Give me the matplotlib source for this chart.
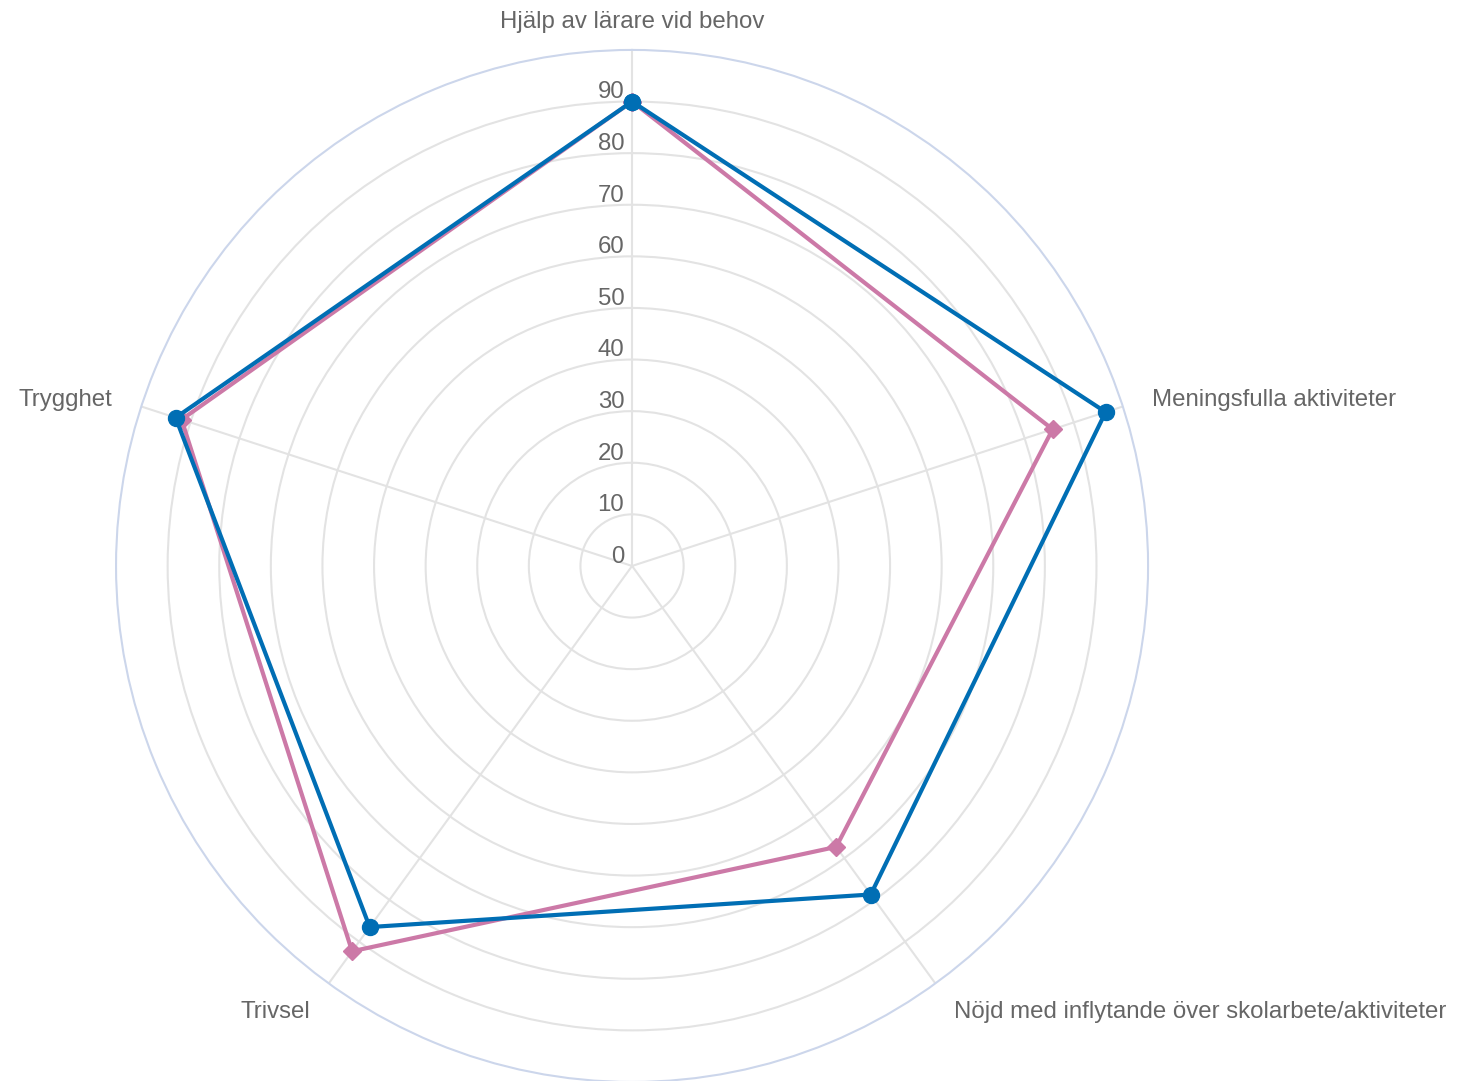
import numpy as np
import matplotlib
matplotlib.use("Agg")
import matplotlib.pyplot as plt
from matplotlib.transforms import offset_copy

plt.rcParams['font.family'] = ['Liberation Sans', 'DejaVu Sans']

categories = ["Hjälp av lärare vid behov", "Meningsfulla aktiviteter",
              "Nöjd med inflytande över skolarbete/aktiviteter", "Trivsel", "Trygghet"]
series_blue = [90, 96.5, 78.7, 86.5, 93]
series_pink = [90, 85.7, 67.3, 92.3, 91.8]
r_ticks = [0, 10, 20, 30, 40, 50, 60, 70, 80, 90]
r_max = 100

blue = "#006eb4"
pink = "#cc79a7"
text_color = "#666666"
grid_color = "#e3e3e3"

fig = plt.figure(figsize=(14.67, 10.81), dpi=100)
ax = fig.add_axes([0.0791, -0.0009, 0.7035, 0.9547], projection='polar')
ax.set_theta_offset(np.pi / 2)
ax.set_theta_direction(-1)

n = len(categories)
angles = np.linspace(0, 2 * np.pi, n, endpoint=False)

ax.set_ylim(0, r_max)
ax.set_yticks(r_ticks[1:])
ax.set_yticklabels([])
ax.set_xticks(angles)
ax.set_xticklabels([])
ax.yaxis.grid(True, color=grid_color, linewidth=1.5)
ax.xaxis.grid(True, color=grid_color, linewidth=1.5)
ax.spines['polar'].set_color("#ccd6eb")
ax.spines['polar'].set_linewidth(1.5)
ax.tick_params(axis='both', length=0)

def closed(v):
    return list(v) + [v[0]]

ang_c = closed(list(angles))
ax.plot(ang_c, closed(series_pink), color=pink, linewidth=3, marker='D', markersize=9, zorder=3)
ax.plot(ang_c, closed(series_blue), color=blue, linewidth=3, marker='o', markersize=11.5, zorder=4)

# radial tick labels
tr = offset_copy(ax.transData, fig=fig, x=-5.6, y=6.6, units='points')
for v in r_ticks:
    ax.text(0, v, str(v), transform=tr, ha='right', va='center',
            fontsize=17.3, color=text_color)

# category labels
tc = offset_copy(ax.transData, fig=fig, x=0, y=-2.2, units='points')
for a, lab in zip(angles, categories):
    deg = np.degrees(a) % 360
    if deg < 1 or deg > 359:
        ha = 'center'
    elif deg < 180:
        ha = 'left'
    else:
        ha = 'right'
    ax.text(a, 106, lab, transform=tc, ha=ha, va='center', fontsize=17.3, color=text_color)

fig.savefig("out.png", dpi=100)
